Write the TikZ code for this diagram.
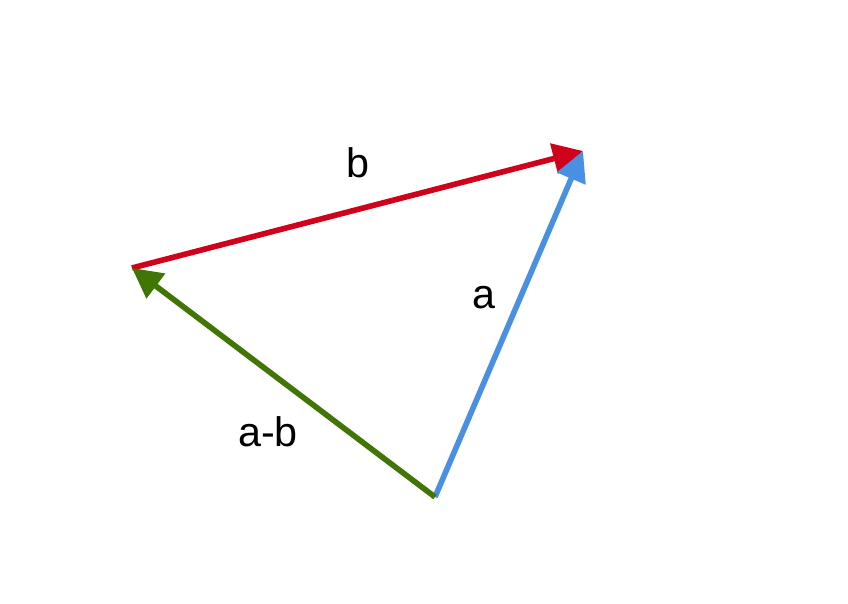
\documentclass[tikz,border=0pt]{standalone}
\usepackage{fontspec}
\setmainfont{Liberation Sans}
\usetikzlibrary{arrows.meta}
\definecolor{vecred}{HTML}{D0021B}
\definecolor{vecblue}{HTML}{4A90E2}
\definecolor{vecgreen}{HTML}{417505}
\tikzset{
every picture/.style={
line width=3.2pt
},
vec/.style={-{Triangle[length=0.6cm, width=0.6cm]}},
lbl/.style={font=\fontsize{23.5}{28}\selectfont}
}

\begin{document}
\begin{tikzpicture}[x=0.02cm, y=-0.02cm]
\useasboundingbox (0,0) rectangle (848,604);
% corner points (pixel coords)
\coordinate (o) at (435,497);
\coordinate (l) at (132,268);
\coordinate (t) at (583,151);

\draw [vec, vecred] (l) -- (t);
\draw [vec, vecblue] (o) -- (t);
\draw [vec, vecgreen] (o) -- (l);

% labels
\node [lbl] (lb) at (358,163) {b};
\node [lbl] (la) at (484,298) {a};
\node [lbl] (lab) at (268,432) {a-b};
\end{tikzpicture}
\end{document}
